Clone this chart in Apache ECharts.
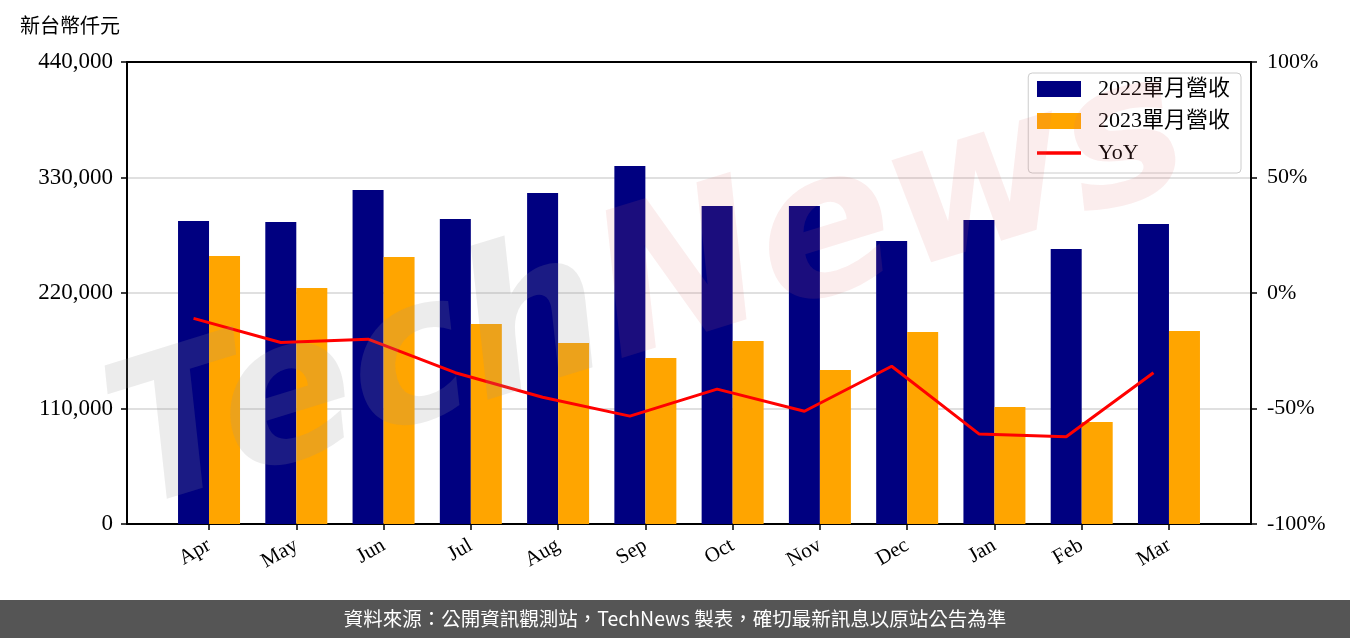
<!DOCTYPE html>
<html>
<head>
<meta charset="utf-8">
<script src="https://cdn.jsdelivr.net/npm/echarts@6/dist/echarts.min.js"></script>
<style>
html,body{margin:0;padding:0;background:#fff;}
#chart{width:1350px;height:638px;}
</style>
</head>
<body>
<div id="chart"></div>
<script>
// ---- data ----
const months = ['Apr','May','Jun','Jul','Aug','Sep','Oct','Nov','Dec','Jan','Feb','Mar'];
const rev2022 = [288600, 287600, 318100, 290500, 315200, 341000, 302900, 302900, 269500, 289500, 261900, 285700];
const rev2023 = [255200, 224800, 254300, 190500, 172400, 158100, 174300, 146700, 182900, 111400, 97100, 183800];
const yoy = [-11.0, -21.4, -20.0, -34.5, -45.1, -53.3, -41.6, -51.2, -31.7, -61.0, -62.2, -34.5];
const leftTicks = [0, 110000, 220000, 330000, 440000];
const rightTicks = [-100, -50, 0, 50, 100];
const seriesNames = ['2022單月營收', '2023單月營收', 'YoY'];
const yTitle = '新台幣仟元';
const footerText = '資料來源：公開資訊觀測站，TechNews 製表，確切最新訊息以原站公告為準';

// ---- layout ----
const W = 1350, H = 638;
const gridLeft = 127, gridRight = 99, gridTop = 62, gridBottom = 114;
const xMin = -0.94, xMax = 11.94;
const barW = 31;
const plotW = W - gridLeft - gridRight;
const pxPerUnit = plotW / (xMax - xMin);
const lineOffset = (barW / 2) / pxPerUnit; // line sits on the centre of the 2022 bar

const serif = "'Liberation Serif','Noto Sans CJK TC',serif";

const idx = months.map((m, i) => i);

const chart = echarts.init(document.getElementById('chart'), null, {renderer: 'canvas'});
const option = {
  animation: false,
  backgroundColor: '#ffffff',
  grid: {left: gridLeft, right: gridRight, top: gridTop, bottom: gridBottom, containLabel: false},
  legend: {
    orient: 'vertical',
    right: 109, top: 73,
    padding: [5, 11, 9, 7],
    itemWidth: 44, itemHeight: 16, itemGap: 10,
    borderColor: '#cccccc', borderWidth: 1, borderRadius: 4,
    backgroundColor: 'rgba(255,255,255,0.8)',
    textStyle: {fontFamily: serif, fontSize: 22, color: '#000', lineHeight: 20, padding: [0, 0, 0, 12]},
    data: [
      {name: seriesNames[0], icon: 'rect'},
      {name: seriesNames[1], icon: 'rect'},
      {name: seriesNames[2], itemStyle: {opacity: 0}, lineStyle: {width: 3.5, color: '#FF0000'}}
    ]
  },
  xAxis: [
    {
      type: 'value', position: 'bottom', min: xMin, max: xMax,
      axisLine: {show: true, onZero: false, lineStyle: {color: '#000', width: 2}},
      axisTick: {show: true, customValues: idx, length: 6, inside: false, lineStyle: {color: '#000', width: 1.5}},
      axisLabel: {
        show: true, customValues: idx, rotate: 30, margin: 20,
        fontFamily: serif, fontSize: 21, color: '#000',
        formatter: v => months[Math.round(v)]
      },
      splitLine: {show: false}
    },
    {
      type: 'value', position: 'top', min: xMin, max: xMax,
      axisLine: {show: true, onZero: false, lineStyle: {color: '#000', width: 2}},
      axisTick: {show: false}, axisLabel: {show: false}, splitLine: {show: false}
    }
  ],
  yAxis: [
    {
      type: 'value', position: 'left', min: leftTicks[0], max: leftTicks[leftTicks.length - 1],
      interval: leftTicks[1] - leftTicks[0],
      axisLine: {show: true, onZero: false, lineStyle: {color: '#000', width: 2}},
      axisTick: {show: true, length: 6, lineStyle: {color: '#000', width: 1.5}},
      axisLabel: {fontFamily: serif, fontSize: 23, color: '#000', margin: 14,
        formatter: v => v.toLocaleString('en-US')},
      splitLine: {show: true, lineStyle: {color: '#d6d6d6', width: 1.5}}
    },
    {
      type: 'value', position: 'right', min: rightTicks[0], max: rightTicks[rightTicks.length - 1],
      interval: rightTicks[1] - rightTicks[0],
      axisLine: {show: true, onZero: false, lineStyle: {color: '#000', width: 2}},
      axisTick: {show: true, length: 6, lineStyle: {color: '#000', width: 1.5}},
      axisLabel: {fontFamily: serif, fontSize: 22, color: '#000', margin: 16,
        formatter: v => v + '%'},
      splitLine: {show: false}
    }
  ],
  series: [
    {
      name: seriesNames[0], type: 'bar', xAxisIndex: 0, yAxisIndex: 0,
      barWidth: barW, barGap: '0%',
      itemStyle: {color: '#000080'},
      data: rev2022.map((v, i) => [i, v]), z: 2
    },
    {
      name: seriesNames[1], type: 'bar', xAxisIndex: 0, yAxisIndex: 0,
      barWidth: barW, barGap: '0%',
      itemStyle: {color: '#FFA500'},
      data: rev2023.map((v, i) => [i, v]), z: 2
    },
    {
      name: seriesNames[2], type: 'line', xAxisIndex: 0, yAxisIndex: 1,
      symbol: 'none', showSymbol: false,
      lineStyle: {color: '#FF0000', width: 3},
      itemStyle: {color: '#FF0000'},
      data: yoy.map((v, i) => [i - lineOffset, v]), z: 3
    }
  ],
  graphic: [
    {
      type: 'text', left: 20, top: 15, z: 10,
      style: {text: yTitle, font: "20px 'Noto Sans CJK TC', sans-serif", fill: '#000'}
    },
    {
      type: 'text', x: 650, y: 295, rotation: 0.3, z: 50, silent: true,
      style: {
        text: '{a|Tech}{b|News}',
        align: 'center', verticalAlign: 'middle',
        rich: {
          a: {fontFamily: "'DejaVu Sans', sans-serif", fontStyle: 'italic', fontWeight: 'bold', fontSize: 200, fill: 'rgba(150,150,150,0.18)'},
          b: {fontFamily: "'DejaVu Sans', sans-serif", fontStyle: 'italic', fontWeight: 'bold', fontSize: 200, fill: 'rgba(220,110,110,0.12)'}
        }
      }
    },
    {
      type: 'rect', left: 0, top: 600, z: 10,
      shape: {width: W, height: H - 600},
      style: {fill: '#555555'}
    },
    {
      type: 'text', x: W / 2, y: 619, z: 11,
      style: {text: footerText, font: "19.5px 'Noto Sans CJK TC', sans-serif", fill: '#ffffff', align: 'center', verticalAlign: 'middle'}
    }
  ]
};
chart.setOption(option);
</script>
</body>
</html>
